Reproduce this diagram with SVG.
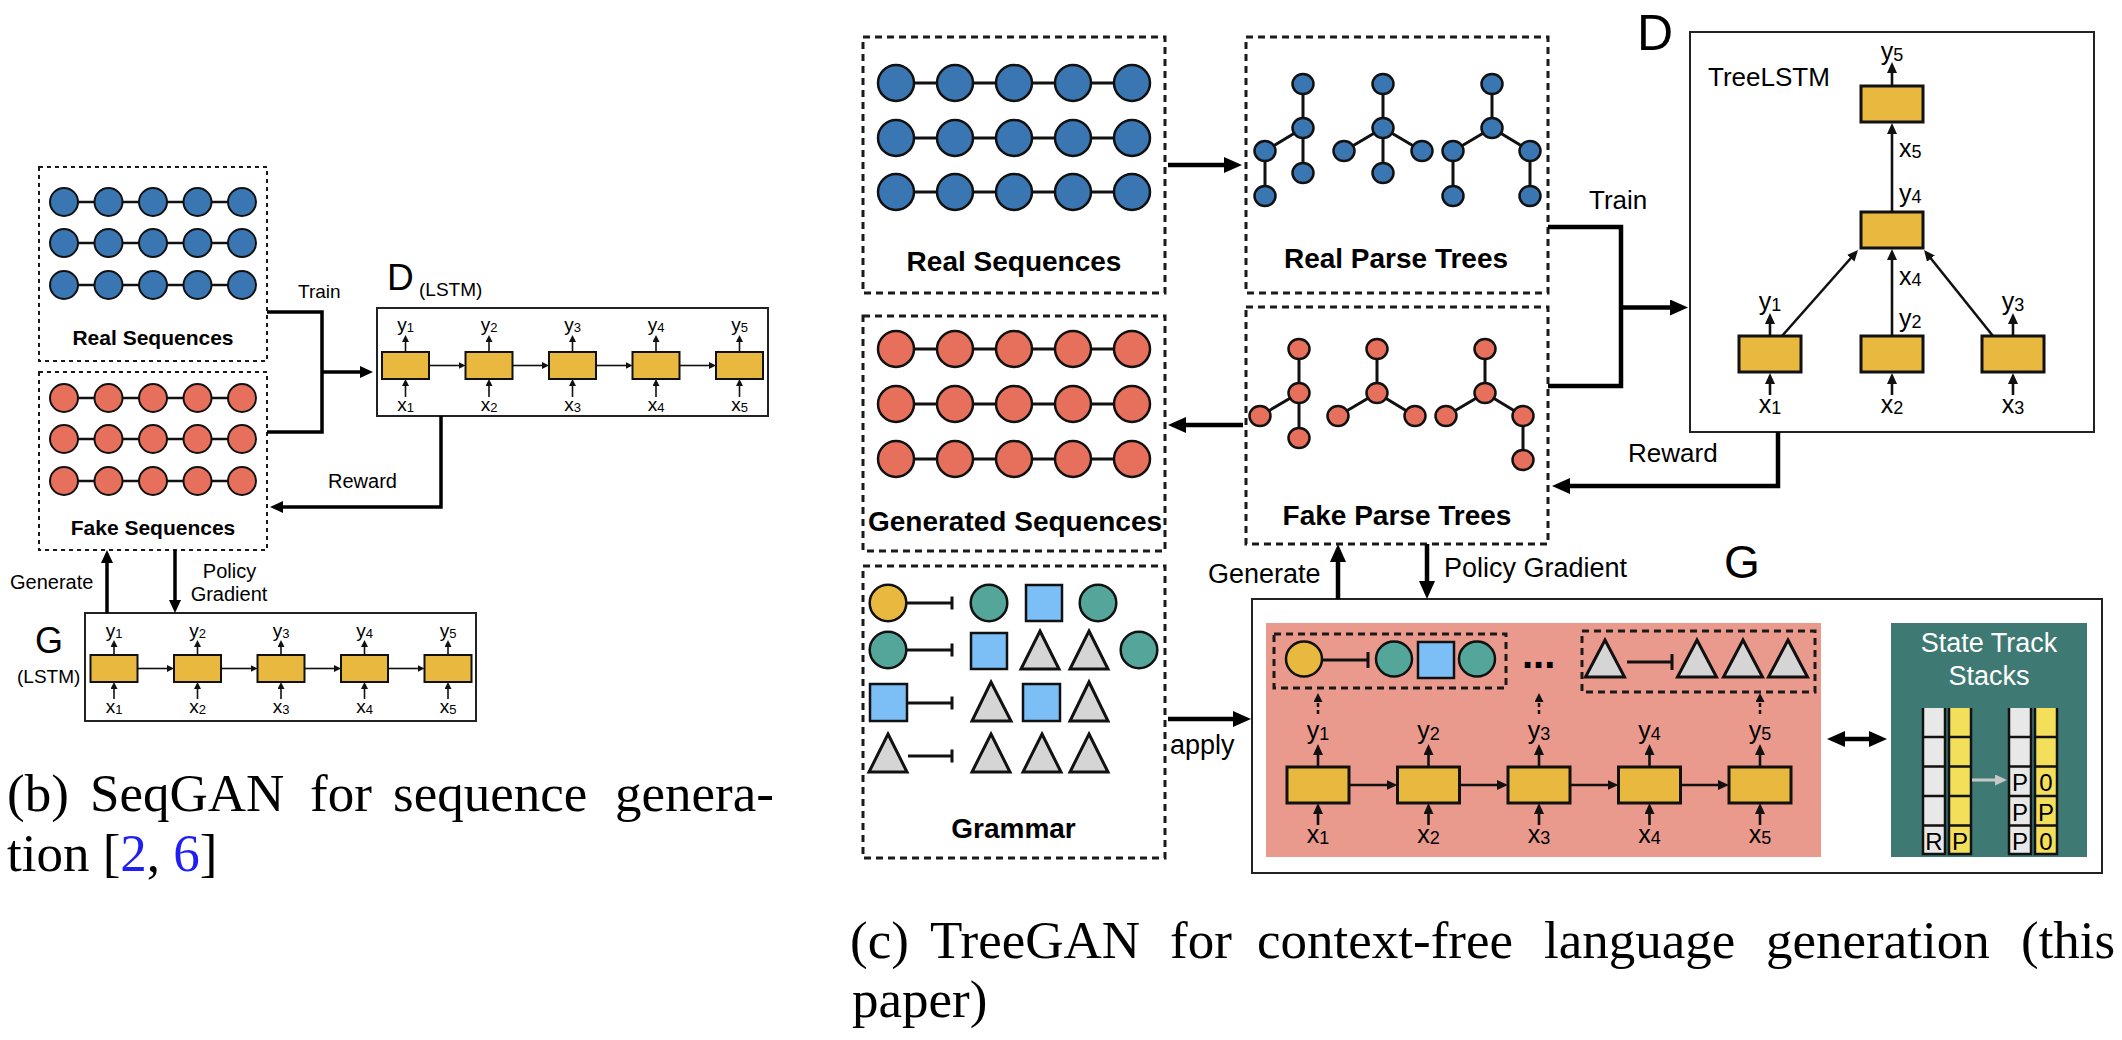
<svg xmlns="http://www.w3.org/2000/svg" width="2122" height="1040" viewBox="0 0 2122 1040">
<defs>
<style>
text { font-family: "Liberation Sans", Arial, sans-serif; fill: #000; }
.cap { font-family: "Liberation Serif", "Times New Roman", serif; font-size: 53px; }
.bold { font-weight: bold; }
.mid { text-anchor: middle; }
.dash { fill: none; stroke: #1a1a1a; stroke-width: 2; stroke-dasharray: 4 4; }
.dash3 { fill: none; stroke: #1a1a1a; stroke-width: 3; stroke-dasharray: 7 5; }
.box { fill: #fff; stroke: #222; stroke-width: 2; }
.cellS { fill: #E9B93F; stroke: #111; stroke-width: 2; }
.cellL { fill: #E9B93F; stroke: #111; stroke-width: 3; }
.blue { fill: #3A76B2; stroke: #111; stroke-width: 2; }
.red { fill: #E6705B; stroke: #111; stroke-width: 2; }
.blue3 { fill: #3A76B2; stroke: #111; stroke-width: 2.5; }
.red3 { fill: #E6705B; stroke: #111; stroke-width: 2.5; }
.yel { fill: #E9B93F; stroke: #111; stroke-width: 2.5; }
.teal { fill: #54A69B; stroke: #111; stroke-width: 2.5; }
.sq { fill: #7BBFF6; stroke: #111; stroke-width: 2.5; }
.tri { fill: #D5D5D5; stroke: #111; stroke-width: 3; stroke-linejoin: miter; }
.ln2 { stroke: #111; stroke-width: 2.5; fill: none; }
.ln3 { stroke: #111; stroke-width: 3; fill: none; }
.conn { fill: none; stroke: #000; stroke-width: 3.5; }
.conn5 { fill: none; stroke: #000; stroke-width: 4.5; }
.arrS { stroke: #111; stroke-width: 1.6; fill: none; }
.arrL { stroke: #111; stroke-width: 2.6; fill: none; }
.arrD { stroke: #111; stroke-width: 2.5; fill: none; stroke-dasharray: 4 3; }
.lblS { font-size: 19px; }
.subS { font-size: 13px; }
.lblL { font-size: 25px; }
.subL { font-size: 18px; }
.stkG { fill: #E8E8E8; }
.stkY { fill: #F3DF59; }
.stkLine { stroke: #111; stroke-width: 2.5; fill: none; }
.stkT { font-size: 24px; text-anchor: middle; }
</style>
<marker id="ahS" markerUnits="userSpaceOnUse" markerWidth="7" markerHeight="7" refX="1" refY="3.5" orient="auto"><path d="M0,0 L7,3.5 L0,7 z" fill="#111"/></marker>
<marker id="ahM" markerUnits="userSpaceOnUse" markerWidth="11" markerHeight="10" refX="1" refY="5" orient="auto"><path d="M0,0 L11,5 L0,10 z" fill="#111"/></marker>
<marker id="ahD" markerUnits="userSpaceOnUse" markerWidth="9" markerHeight="9" refX="1" refY="4.5" orient="auto"><path d="M0,0 L9,4.5 L0,9 z" fill="#111"/></marker>
<marker id="ahL" markerUnits="userSpaceOnUse" markerWidth="13" markerHeight="12" refX="1" refY="6" orient="auto"><path d="M0,0 L13,6 L0,12 z" fill="#000"/></marker>
<marker id="ahX" markerUnits="userSpaceOnUse" markerWidth="18" markerHeight="16" refX="1" refY="8" orient="auto-start-reverse"><path d="M0,0 L18,8 L0,16 z" fill="#000"/></marker>
<marker id="ahG" markerUnits="userSpaceOnUse" markerWidth="12" markerHeight="11" refX="1" refY="5.5" orient="auto"><path d="M0,0 L12,5.5 L0,11 z" fill="#C8C8C8"/></marker>
</defs>
<rect width="2122" height="1040" fill="#fff"/>

<!-- ================= SeqGAN ================= -->
<g id="seq-real">
<rect class="dash" x="39" y="167" width="228" height="194"/>
<g class="ln2"><line x1="64" y1="202" x2="242" y2="202"/><line x1="64" y1="243" x2="242" y2="243"/><line x1="64" y1="285" x2="242" y2="285"/></g>
<g class="blue">
<circle cx="64" cy="202" r="14"/><circle cx="108.5" cy="202" r="14"/><circle cx="153" cy="202" r="14"/><circle cx="197.5" cy="202" r="14"/><circle cx="242" cy="202" r="14"/>
<circle cx="64" cy="243" r="14"/><circle cx="108.5" cy="243" r="14"/><circle cx="153" cy="243" r="14"/><circle cx="197.5" cy="243" r="14"/><circle cx="242" cy="243" r="14"/>
<circle cx="64" cy="285" r="14"/><circle cx="108.5" cy="285" r="14"/><circle cx="153" cy="285" r="14"/><circle cx="197.5" cy="285" r="14"/><circle cx="242" cy="285" r="14"/>
</g>
<text class="bold mid" x="153" y="345" font-size="21">Real Sequences</text>
</g>

<g id="seq-fake">
<rect class="dash" x="39" y="372" width="228" height="178"/>
<g class="ln2"><line x1="64" y1="398" x2="242" y2="398"/><line x1="64" y1="439" x2="242" y2="439"/><line x1="64" y1="481" x2="242" y2="481"/></g>
<g class="red">
<circle cx="64" cy="398" r="14"/><circle cx="108.5" cy="398" r="14"/><circle cx="153" cy="398" r="14"/><circle cx="197.5" cy="398" r="14"/><circle cx="242" cy="398" r="14"/>
<circle cx="64" cy="439" r="14"/><circle cx="108.5" cy="439" r="14"/><circle cx="153" cy="439" r="14"/><circle cx="197.5" cy="439" r="14"/><circle cx="242" cy="439" r="14"/>
<circle cx="64" cy="481" r="14"/><circle cx="108.5" cy="481" r="14"/><circle cx="153" cy="481" r="14"/><circle cx="197.5" cy="481" r="14"/><circle cx="242" cy="481" r="14"/>
</g>
<text class="bold mid" x="153" y="535" font-size="21">Fake Sequences</text>
</g>

<g id="seq-D">
<text x="387" y="290" font-size="37">D</text>
<text x="419" y="296" font-size="19">(LSTM)</text>
<rect class="box" x="377" y="308" width="391" height="108"/>
<g class="cellS">
<rect x="382" y="352" width="47" height="27"/><rect x="465.5" y="352" width="47" height="27"/><rect x="549" y="352" width="47" height="27"/><rect x="632.5" y="352" width="47" height="27"/><rect x="716" y="352" width="47" height="27"/>
</g>
<g class="arrS" marker-end="url(#ahS)">
<line x1="429" y1="365.5" x2="459.5" y2="365.5"/><line x1="512.5" y1="365.5" x2="543" y2="365.5"/><line x1="596" y1="365.5" x2="626.5" y2="365.5"/><line x1="679.5" y1="365.5" x2="710" y2="365.5"/>
<line x1="405.5" y1="352" x2="405.5" y2="341"/><line x1="489" y1="352" x2="489" y2="341"/><line x1="572.5" y1="352" x2="572.5" y2="341"/><line x1="656" y1="352" x2="656" y2="341"/><line x1="739.5" y1="352" x2="739.5" y2="341"/>
<line x1="405.5" y1="397" x2="405.5" y2="385"/><line x1="489" y1="397" x2="489" y2="385"/><line x1="572.5" y1="397" x2="572.5" y2="385"/><line x1="656" y1="397" x2="656" y2="385"/><line x1="739.5" y1="397" x2="739.5" y2="385"/>
</g>
<g class="lblS mid">
<text x="405.5" y="331">y<tspan class="subS" dy="1">1</tspan></text><text x="489" y="331">y<tspan class="subS" dy="1">2</tspan></text><text x="572.5" y="331">y<tspan class="subS" dy="1">3</tspan></text><text x="656" y="331">y<tspan class="subS" dy="1">4</tspan></text><text x="739.5" y="331">y<tspan class="subS" dy="1">5</tspan></text>
<text x="405.5" y="411">x<tspan class="subS" dy="1">1</tspan></text><text x="489" y="411">x<tspan class="subS" dy="1">2</tspan></text><text x="572.5" y="411">x<tspan class="subS" dy="1">3</tspan></text><text x="656" y="411">x<tspan class="subS" dy="1">4</tspan></text><text x="739.5" y="411">x<tspan class="subS" dy="1">5</tspan></text>
</g>
</g>

<g id="seq-G">
<text x="35" y="653" font-size="36">G</text>
<text x="17" y="683" font-size="19">(LSTM)</text>
<rect class="box" x="85" y="613" width="391" height="108"/>
<g class="cellS">
<rect x="90.5" y="655" width="47" height="27"/><rect x="174" y="655" width="47" height="27"/><rect x="257.5" y="655" width="47" height="27"/><rect x="341" y="655" width="47" height="27"/><rect x="424.5" y="655" width="47" height="27"/>
</g>
<g class="arrS" marker-end="url(#ahS)">
<line x1="137.5" y1="668.5" x2="168" y2="668.5"/><line x1="221" y1="668.5" x2="251.5" y2="668.5"/><line x1="304.5" y1="668.5" x2="335" y2="668.5"/><line x1="388" y1="668.5" x2="418.5" y2="668.5"/>
<line x1="114" y1="655" x2="114" y2="646"/><line x1="197.5" y1="655" x2="197.5" y2="646"/><line x1="281" y1="655" x2="281" y2="646"/><line x1="364.5" y1="655" x2="364.5" y2="646"/><line x1="448" y1="655" x2="448" y2="646"/>
<line x1="114" y1="699" x2="114" y2="688"/><line x1="197.5" y1="699" x2="197.5" y2="688"/><line x1="281" y1="699" x2="281" y2="688"/><line x1="364.5" y1="699" x2="364.5" y2="688"/><line x1="448" y1="699" x2="448" y2="688"/>
</g>
<g class="lblS mid">
<text x="114" y="637">y<tspan class="subS" dy="1">1</tspan></text><text x="197.5" y="637">y<tspan class="subS" dy="1">2</tspan></text><text x="281" y="637">y<tspan class="subS" dy="1">3</tspan></text><text x="364.5" y="637">y<tspan class="subS" dy="1">4</tspan></text><text x="448" y="637">y<tspan class="subS" dy="1">5</tspan></text>
<text x="114" y="713">x<tspan class="subS" dy="1">1</tspan></text><text x="197.5" y="713">x<tspan class="subS" dy="1">2</tspan></text><text x="281" y="713">x<tspan class="subS" dy="1">3</tspan></text><text x="364.5" y="713">x<tspan class="subS" dy="1">4</tspan></text><text x="448" y="713">x<tspan class="subS" dy="1">5</tspan></text>
</g>
</g>

<g id="seq-connectors">
<path class="conn" d="M267,312 H322 V432 H267"/>
<line class="conn" x1="322" y1="372" x2="361" y2="372" marker-end="url(#ahL)"/>
<path class="conn" d="M441,416 V507 H282" marker-end="url(#ahL)"/>
<line class="conn" x1="107" y1="613" x2="107" y2="562" marker-end="url(#ahL)"/>
<line class="conn" x1="175" y1="550" x2="175" y2="601" marker-end="url(#ahL)"/>
<text x="298" y="298" font-size="19">Train</text>
<text x="328" y="488" font-size="20">Reward</text>
<text x="10" y="589" font-size="20">Generate</text>
<text class="mid" x="229.5" y="578" font-size="20">Policy</text>
<text class="mid" x="229" y="601" font-size="20">Gradient</text>
</g>

<g id="caption-b">
<text class="cap" y="811"><tspan x="7">(b)</tspan><tspan x="90">SeqGAN</tspan><tspan x="310">for</tspan><tspan x="393">sequence</tspan><tspan x="615">genera-</tspan></text>
<text class="cap" x="7" y="871">tion [<tspan fill="#1F1FF5">2</tspan>, <tspan fill="#1F1FF5">6</tspan>]</text>
</g>

<!-- ================= TreeGAN ================= -->
<g id="tree-real-seq">
<rect class="dash3" x="863" y="37" width="302" height="256"/>
<g class="ln3"><line x1="896" y1="83" x2="1132" y2="83"/><line x1="896" y1="138" x2="1132" y2="138"/><line x1="896" y1="192" x2="1132" y2="192"/></g>
<g class="blue3">
<circle cx="896" cy="83" r="18"/><circle cx="955" cy="83" r="18"/><circle cx="1014" cy="83" r="18"/><circle cx="1073" cy="83" r="18"/><circle cx="1132" cy="83" r="18"/>
<circle cx="896" cy="138" r="18"/><circle cx="955" cy="138" r="18"/><circle cx="1014" cy="138" r="18"/><circle cx="1073" cy="138" r="18"/><circle cx="1132" cy="138" r="18"/>
<circle cx="896" cy="192" r="18"/><circle cx="955" cy="192" r="18"/><circle cx="1014" cy="192" r="18"/><circle cx="1073" cy="192" r="18"/><circle cx="1132" cy="192" r="18"/>
</g>
<text class="bold mid" x="1014" y="271" font-size="28">Real Sequences</text>
</g>

<g id="tree-gen-seq">
<rect class="dash3" x="863" y="316" width="302" height="235"/>
<g class="ln3"><line x1="896" y1="349" x2="1132" y2="349"/><line x1="896" y1="404" x2="1132" y2="404"/><line x1="896" y1="459" x2="1132" y2="459"/></g>
<g class="red3">
<circle cx="896" cy="349" r="18"/><circle cx="955" cy="349" r="18"/><circle cx="1014" cy="349" r="18"/><circle cx="1073" cy="349" r="18"/><circle cx="1132" cy="349" r="18"/>
<circle cx="896" cy="404" r="18"/><circle cx="955" cy="404" r="18"/><circle cx="1014" cy="404" r="18"/><circle cx="1073" cy="404" r="18"/><circle cx="1132" cy="404" r="18"/>
<circle cx="896" cy="459" r="18"/><circle cx="955" cy="459" r="18"/><circle cx="1014" cy="459" r="18"/><circle cx="1073" cy="459" r="18"/><circle cx="1132" cy="459" r="18"/>
</g>
<text class="bold mid" x="1015" y="531" font-size="28">Generated Sequences</text>
</g>

<g id="tree-grammar">
<rect class="dash3" x="863" y="566" width="302" height="292"/>
<g class="ln3">
<path d="M907,603 H952 M952,596.5 V609.5"/>
<path d="M907,650 H952 M952,643.5 V656.5"/>
<path d="M907,703 H952 M952,696.5 V709.5"/>
<path d="M908,756 H952 M952,749.5 V762.5"/>
</g>
<circle class="yel" cx="888" cy="603" r="18.3"/>
<circle class="teal" cx="989" cy="603" r="18.3"/>
<rect class="sq" x="1026" y="585" width="36" height="36"/>
<circle class="teal" cx="1098" cy="603" r="18.3"/>
<circle class="teal" cx="888" cy="650" r="18.3"/>
<rect class="sq" x="971" y="633" width="36" height="36"/>
<polygon class="tri" points="1040,631 1059,669 1021,669"/>
<polygon class="tri" points="1089,631 1108,669 1070,669"/>
<circle class="teal" cx="1139" cy="650" r="18.3"/>
<rect class="sq" x="870" y="684" width="37" height="37"/>
<polygon class="tri" points="991,682 1011,721 972,721"/>
<rect class="sq" x="1023" y="684" width="37" height="37"/>
<polygon class="tri" points="1089,682 1108,721 1070,721"/>
<polygon class="tri" points="888,734 907,772 869,772"/>
<polygon class="tri" points="991,734 1010,772 972,772"/>
<polygon class="tri" points="1042,734 1061,772 1023,772"/>
<polygon class="tri" points="1089,734 1108,772 1070,772"/>
<text class="bold mid" x="1013.5" y="838" font-size="28">Grammar</text>
</g>

<g id="tree-real-parse">
<rect class="dash3" x="1246" y="37" width="302" height="256"/>
<g class="ln3">
<path d="M1303,84 V173 M1303,128 L1265,151 V196"/>
<path d="M1383,84 V173 M1344,151 L1383,128 L1422,151"/>
<path d="M1492,84 V128 M1453,196 V151 L1492,128 L1530,151 V196"/>
</g>
<g class="blue3">
<ellipse cx="1303" cy="84" rx="10.5" ry="10"/><ellipse cx="1303" cy="128" rx="10.5" ry="10"/><ellipse cx="1265" cy="151" rx="10.5" ry="10"/><ellipse cx="1265" cy="196" rx="10.5" ry="10"/><ellipse cx="1303" cy="173" rx="10.5" ry="10"/>
<ellipse cx="1383" cy="84" rx="10.5" ry="10"/><ellipse cx="1383" cy="128" rx="10.5" ry="10"/><ellipse cx="1344" cy="151" rx="10.5" ry="10"/><ellipse cx="1422" cy="151" rx="10.5" ry="10"/><ellipse cx="1383" cy="173" rx="10.5" ry="10"/>
<ellipse cx="1492" cy="84" rx="10.5" ry="10"/><ellipse cx="1492" cy="128" rx="10.5" ry="10"/><ellipse cx="1453" cy="151" rx="10.5" ry="10"/><ellipse cx="1453" cy="196" rx="10.5" ry="10"/><ellipse cx="1530" cy="151" rx="10.5" ry="10"/><ellipse cx="1530" cy="196" rx="10.5" ry="10"/>
</g>
<text class="bold mid" x="1396" y="268" font-size="28">Real Parse Trees</text>
</g>

<g id="tree-fake-parse">
<rect class="dash3" x="1246" y="307" width="302" height="237"/>
<g class="ln3">
<path d="M1299,349 V438 M1299,393 L1260,416"/>
<path d="M1377,349 V393 M1338,416 L1377,393 L1415,416"/>
<path d="M1485,349 V393 M1446,416 L1485,393 L1523,416 V460"/>
</g>
<g class="red3">
<ellipse cx="1299" cy="349" rx="10.5" ry="10"/><ellipse cx="1299" cy="393" rx="10.5" ry="10"/><ellipse cx="1260" cy="416" rx="10.5" ry="10"/><ellipse cx="1299" cy="438" rx="10.5" ry="10"/>
<ellipse cx="1377" cy="349" rx="10.5" ry="10"/><ellipse cx="1377" cy="393" rx="10.5" ry="10"/><ellipse cx="1338" cy="416" rx="10.5" ry="10"/><ellipse cx="1415" cy="416" rx="10.5" ry="10"/>
<ellipse cx="1485" cy="349" rx="10.5" ry="10"/><ellipse cx="1485" cy="393" rx="10.5" ry="10"/><ellipse cx="1446" cy="416" rx="10.5" ry="10"/><ellipse cx="1523" cy="416" rx="10.5" ry="10"/><ellipse cx="1523" cy="460" rx="10.5" ry="10"/>
</g>
<text class="bold mid" x="1397" y="525" font-size="28">Fake Parse Trees</text>
</g>

<g id="tree-D">
<text x="1637" y="50" font-size="50">D</text>
<rect class="box" x="1690" y="32" width="404" height="400"/>
<text x="1708" y="86" font-size="26">TreeLSTM</text>
<g class="cellL">
<rect x="1861" y="86" width="62" height="36"/>
<rect x="1861" y="212" width="62" height="36"/>
<rect x="1739" y="336" width="62" height="36"/>
<rect x="1861" y="336" width="62" height="36"/>
<rect x="1982" y="336" width="62" height="36"/>
</g>
<g class="arrL" marker-end="url(#ahM)">
<line x1="1892" y1="86" x2="1892" y2="72"/>
<line x1="1892" y1="212" x2="1892" y2="133"/>
<line x1="1782" y1="336" x2="1851.4" y2="257.5"/>
<line x1="1892" y1="336" x2="1892" y2="259"/>
<line x1="1993" y1="336" x2="1930.3" y2="257.8"/>
<line x1="1770" y1="336" x2="1770" y2="323"/>
<line x1="2013" y1="336" x2="2013" y2="323"/>
<line x1="1770" y1="395" x2="1770" y2="383"/>
<line x1="1892" y1="395" x2="1892" y2="383"/>
<line x1="2013" y1="395" x2="2013" y2="383"/>
</g>
<g class="lblL">
<text class="mid" x="1892" y="60">y<tspan class="subL" dy="1">5</tspan></text>
<text x="1899" y="157">x<tspan class="subL" dy="1">5</tspan></text>
<text x="1899" y="202">y<tspan class="subL" dy="1">4</tspan></text>
<text x="1899" y="285">x<tspan class="subL" dy="1">4</tspan></text>
<text x="1899" y="327">y<tspan class="subL" dy="1">2</tspan></text>
<text class="mid" x="1770" y="310">y<tspan class="subL" dy="1">1</tspan></text>
<text class="mid" x="2013" y="310">y<tspan class="subL" dy="1">3</tspan></text>
<text class="mid" x="1770" y="413">x<tspan class="subL" dy="1">1</tspan></text>
<text class="mid" x="1892" y="413">x<tspan class="subL" dy="1">2</tspan></text>
<text class="mid" x="2013" y="413">x<tspan class="subL" dy="1">3</tspan></text>
</g>
</g>

<g id="tree-G">
<text x="1724" y="578" font-size="46">G</text>
<rect class="box" x="1252" y="599" width="850" height="274" stroke-width="2.5"/>
<rect x="1266" y="623" width="555" height="234" fill="#EA998D"/>
<rect class="dash3" x="1274" y="634" width="232" height="54" stroke-width="2.5" stroke-dasharray="6 4"/>
<path class="ln3" d="M1322,660 H1368 M1368,652 V668"/>
<ellipse class="yel" cx="1304" cy="659" rx="18" ry="17.5"/>
<ellipse class="teal" cx="1394" cy="659" rx="18" ry="17.5"/>
<rect class="sq" x="1418" y="642" width="36" height="36"/>
<ellipse class="teal" cx="1477" cy="659" rx="18" ry="17.5"/>
<text class="bold" x="1522" y="668" font-size="40">...</text>
<rect class="dash3" x="1582" y="631" width="233" height="61" stroke-width="2.5" stroke-dasharray="6 4"/>
<polygon class="tri" points="1605,640 1624.5,677 1585.5,677"/>
<path class="ln3" d="M1627,662 H1672 M1672,654 V670"/>
<polygon class="tri" points="1697,640 1716.5,677 1677.5,677"/>
<polygon class="tri" points="1743,640 1762.5,677 1723.5,677"/>
<polygon class="tri" points="1788,640 1807.5,677 1768.5,677"/>
<g class="arrD" marker-end="url(#ahD)">
<line x1="1318" y1="714" x2="1318" y2="701"/>
<line x1="1539" y1="714" x2="1539" y2="701"/>
<line x1="1760" y1="714" x2="1760" y2="701"/>
</g>
<g class="cellL">
<rect x="1287" y="767" width="62" height="36"/><rect x="1397.5" y="767" width="62" height="36"/><rect x="1508" y="767" width="62" height="36"/><rect x="1618.5" y="767" width="62" height="36"/><rect x="1729" y="767" width="62" height="36"/>
</g>
<g class="arrL" marker-end="url(#ahM)">
<line x1="1349" y1="785" x2="1387.5" y2="785"/><line x1="1459.5" y1="785" x2="1498" y2="785"/><line x1="1570" y1="785" x2="1608.5" y2="785"/><line x1="1680.5" y1="785" x2="1719" y2="785"/>
<line x1="1318" y1="767" x2="1318" y2="754"/><line x1="1428.5" y1="767" x2="1428.5" y2="754"/><line x1="1539" y1="767" x2="1539" y2="754"/><line x1="1649.5" y1="767" x2="1649.5" y2="754"/><line x1="1760" y1="767" x2="1760" y2="754"/>
<line x1="1318" y1="825" x2="1318" y2="813"/><line x1="1428.5" y1="825" x2="1428.5" y2="813"/><line x1="1539" y1="825" x2="1539" y2="813"/><line x1="1649.5" y1="825" x2="1649.5" y2="813"/><line x1="1760" y1="825" x2="1760" y2="813"/>
</g>
<g class="lblL mid">
<text x="1318" y="739">y<tspan class="subL" dy="1">1</tspan></text><text x="1428.5" y="739">y<tspan class="subL" dy="1">2</tspan></text><text x="1539" y="739">y<tspan class="subL" dy="1">3</tspan></text><text x="1649.5" y="739">y<tspan class="subL" dy="1">4</tspan></text><text x="1760" y="739">y<tspan class="subL" dy="1">5</tspan></text>
<text x="1318" y="843">x<tspan class="subL" dy="1">1</tspan></text><text x="1428.5" y="843">x<tspan class="subL" dy="1">2</tspan></text><text x="1539" y="843">x<tspan class="subL" dy="1">3</tspan></text><text x="1649.5" y="843">x<tspan class="subL" dy="1">4</tspan></text><text x="1760" y="843">x<tspan class="subL" dy="1">5</tspan></text>
</g>
</g>

<g id="tree-stacks">
<rect x="1891" y="623" width="196" height="234" fill="#3E7A73"/>
<text class="mid" x="1989" y="652" font-size="27" style="fill:#fff">State Track</text>
<text class="mid" x="1989" y="685" font-size="27" style="fill:#fff">Stacks</text>
<rect class="stkG" x="1923" y="708" width="22" height="146"/>
<rect class="stkY" x="1949" y="708" width="22" height="146"/>
<rect class="stkG" x="2009" y="708" width="22" height="146"/>
<rect class="stkY" x="2035" y="708" width="22" height="146"/>
<g class="stkLine">
<path d="M1923,708 V854 H1945 V708 M1923,737 H1945 M1923,766.5 H1945 M1923,796 H1945 M1923,825.5 H1945"/>
<path d="M1949,708 V854 H1971 V708 M1949,737 H1971 M1949,766.5 H1971 M1949,796 H1971 M1949,825.5 H1971"/>
<path d="M2009,708 V854 H2031 V708 M2009,737 H2031 M2009,766.5 H2031 M2009,796 H2031 M2009,825.5 H2031"/>
<path d="M2035,708 V854 H2057 V708 M2035,737 H2057 M2035,766.5 H2057 M2035,796 H2057 M2035,825.5 H2057"/>
</g>
<line x1="1972" y1="780" x2="1996" y2="780" stroke="#C8C8C8" stroke-width="3" marker-end="url(#ahG)"/>
<g class="stkT">
<text x="1934" y="850">R</text><text x="1960" y="850">P</text>
<text x="2020" y="791">P</text><text x="2020" y="820.5">P</text><text x="2020" y="850">P</text>
<text x="2046" y="791">0</text><text x="2046" y="820.5">P</text><text x="2046" y="850">0</text>
</g>
</g>

<g id="tree-connectors">
<line class="conn5" x1="1168" y1="165" x2="1225" y2="165" marker-end="url(#ahX)"/>
<line class="conn5" x1="1243" y1="425" x2="1185" y2="425" marker-end="url(#ahX)"/>
<path class="conn5" d="M1548,227 H1621 V386 H1548"/>
<line class="conn5" x1="1621" y1="307.5" x2="1671" y2="307.5" marker-end="url(#ahX)"/>
<path class="conn5" d="M1778,432 V486 H1569" marker-end="url(#ahX)"/>
<line class="conn5" x1="1338" y1="599" x2="1338" y2="561" marker-end="url(#ahX)"/>
<line class="conn5" x1="1427" y1="544" x2="1427" y2="582" marker-end="url(#ahX)"/>
<line class="conn5" x1="1168" y1="719" x2="1234" y2="719" marker-end="url(#ahX)"/>
<line class="conn5" x1="1844" y1="739" x2="1870" y2="739" marker-start="url(#ahX)" marker-end="url(#ahX)"/>
<text x="1589" y="209" font-size="26">Train</text>
<text x="1628" y="462" font-size="26">Reward</text>
<text x="1208" y="583" font-size="27">Generate</text>
<text x="1444" y="577" font-size="27">Policy Gradient</text>
<text x="1170" y="754" font-size="27">apply</text>
</g>

<g id="caption-c">
<text class="cap" y="958"><tspan x="850">(c)</tspan><tspan x="930">TreeGAN</tspan><tspan x="1170">for</tspan><tspan x="1257">context-free</tspan><tspan x="1544">language</tspan><tspan x="1766">generation</tspan><tspan x="2021">(this</tspan></text>
<text class="cap" x="852" y="1017">paper)</text>
</g>
</svg>
